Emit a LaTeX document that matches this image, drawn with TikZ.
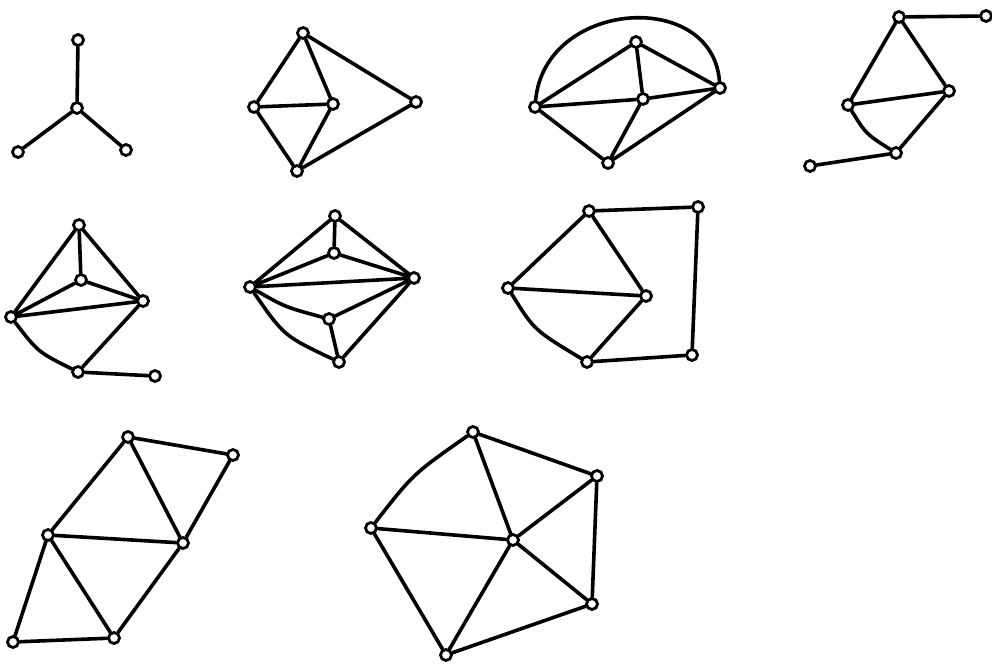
\documentclass[tikz,border=0pt]{standalone}
\begin{document}
\begin{tikzpicture}[x=1pt,y=-1pt,
  vtx/.style={circle,draw=black,line width=2.8pt,inner sep=0pt,minimum size=11pt,fill=white},
  edge/.style={line width=3.6pt,line cap=round,line join=round,black}]
\useasboundingbox (0,0) rectangle (992,668);
\fill[white] (0,0) rectangle (992,668);
% ---------- graph 1 : star
\node[vtx] (a0) at (77,108) {};
\node[vtx] (a1) at (78,40) {};
\node[vtx] (a2) at (18,152) {};
\node[vtx] (a3) at (126,150) {};
\draw[edge] (a0)--(a1) (a0)--(a2) (a0)--(a3);
% ---------- graph 2
\node[vtx] (b1) at (303,33) {};
\node[vtx] (b2) at (254,107) {};
\node[vtx] (b3) at (333,104) {};
\node[vtx] (b4) at (297,171) {};
\node[vtx] (b5) at (416,102) {};
\draw[edge] (b1)--(b2) (b1)--(b3) (b1)--(b5) (b2)--(b3) (b2)--(b4) (b3)--(b4) (b4)--(b5);
% ---------- graph 3
\node[vtx] (c1) at (535,107) {};
\node[vtx] (c2) at (636,42) {};
\node[vtx] (c3) at (643,99) {};
\node[vtx] (c4) at (720,88) {};
\node[vtx] (c5) at (608,163) {};
\draw[edge] (c1)--(c2) (c1)--(c3) (c3)--(c4) (c2)--(c3) (c2)--(c4)
  (c1)--(c5) (c3)--(c5) (c5)--(c4);
\draw[edge] (c1) .. controls (545,0) and (712,-12) .. (c4);
% ---------- graph 4
\node[vtx] (d1) at (899,17) {};
\node[vtx] (d2) at (986,16) {};
\node[vtx] (d3) at (848,105) {};
\node[vtx] (d4) at (949,91) {};
\node[vtx] (d5) at (896,153) {};
\node[vtx] (d6) at (810,166) {};
\draw[edge] (d1)--(d2) (d1)--(d3) (d1)--(d4) (d3)--(d4) (d4)--(d5) (d5)--(d6);
\draw[edge] (d3) .. controls (866,134) .. (d5);
% ---------- graph 5
\node[vtx] (e1) at (79,225) {};
\node[vtx] (e2) at (81,280) {};
\node[vtx] (e3) at (11,317) {};
\node[vtx] (e4) at (143,301) {};
\node[vtx] (e5) at (78,372) {};
\node[vtx] (e6) at (155,376) {};
\draw[edge] (e1)--(e2) (e1)--(e3) (e1)--(e4) (e2)--(e3) (e2)--(e4) (e3)--(e4)
  (e4)--(e5) (e5)--(e6);
\draw[edge] (e3) .. controls (38,352) .. (e5);
% ---------- graph 6
\node[vtx] (f1) at (335,216) {};
\node[vtx] (f2) at (334,253) {};
\node[vtx] (f3) at (250,287) {};
\node[vtx] (f4) at (414,278) {};
\node[vtx] (f5) at (329,319) {};
\node[vtx] (f6) at (339,362) {};
\draw[edge] (f1)--(f3) (f1)--(f4) (f1)--(f2) (f2)--(f3) (f2)--(f4) (f3)--(f4)
  (f5)--(f4) (f5)--(f6) (f6)--(f4);
\draw[edge] (f3) .. controls (285,307) .. (f5);
\draw[edge] (f3) .. controls (284,336) .. (f6);
% ---------- graph 7
\node[vtx] (g1) at (508,288) {};
\node[vtx] (g2) at (589,211) {};
\node[vtx] (g3) at (646,296) {};
\node[vtx] (g4) at (587,362) {};
\node[vtx] (g5) at (698,207) {};
\node[vtx] (g6) at (692,355) {};
\draw[edge] (g1)--(g2) (g2)--(g3) (g1)--(g3) (g4)--(g3) (g2)--(g5) (g5)--(g6) (g4)--(g6);
\draw[edge] (g1) .. controls (534,330) .. (g4);
% ---------- graph 8
\node[vtx] (h1) at (128,437) {};
\node[vtx] (h2) at (233,455) {};
\node[vtx] (h3) at (48,535) {};
\node[vtx] (h4) at (183,543) {};
\node[vtx] (h5) at (13,642) {};
\node[vtx] (h6) at (114,638) {};
\draw[edge] (h1)--(h2) (h1)--(h3) (h1)--(h4) (h2)--(h4) (h3)--(h4) (h3)--(h5)
  (h3)--(h6) (h4)--(h6) (h5)--(h6);
% ---------- graph 9
\node[vtx] (k1) at (473,432) {};
\node[vtx] (k2) at (597,476) {};
\node[vtx] (k3) at (371,528) {};
\node[vtx] (k4) at (513,540) {};
\node[vtx] (k5) at (592,604) {};
\node[vtx] (k6) at (446,655) {};
\draw[edge] (k1)--(k2) (k1)--(k4) (k2)--(k4) (k2)--(k5) (k3)--(k4) (k3)--(k6)
  (k4)--(k6) (k4)--(k5) (k5)--(k6);
\draw[edge] (k1) .. controls (413,474) .. (k3);
\end{tikzpicture}
\end{document}
